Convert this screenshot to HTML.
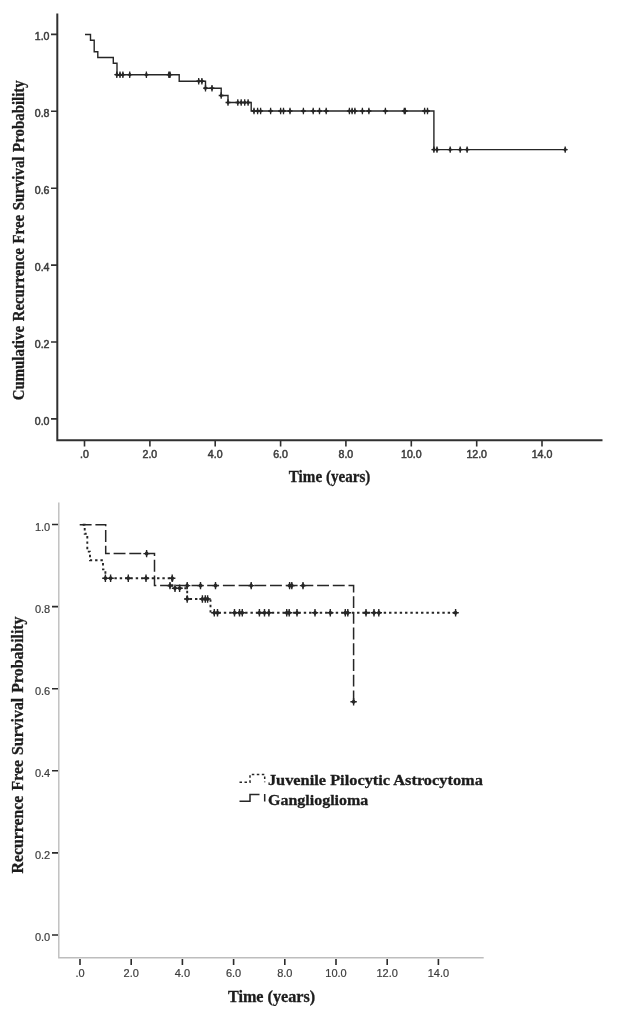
<!DOCTYPE html>
<html><head><meta charset="utf-8"><title>Recurrence free survival</title>
<style>
html,body{margin:0;padding:0;background:#fff}
svg{display:block}
.tk{font-family:"Liberation Sans",sans-serif;fill:#3c3c3c;stroke:#3c3c3c}
#all{filter:blur(.55px)}
.ti{font-family:"Liberation Serif",serif;font-weight:bold;fill:#1c1c1c;stroke:#1c1c1c;stroke-width:.3}
</style></head><body>
<svg width="618" height="1016" viewBox="0 0 618 1016">
<rect width="618" height="1016" fill="#fff"/>
<g id="all">
<g stroke="#303030" stroke-width="2" fill="none"><path d="M57.3 13.5V440.3H602.5"/>
<path stroke-width="1.6" d="M51 34.4H57M51 111.3H57M51 188.2H57M51 265.1H57M51 342.0H57M51 418.9H57M84.5 440V446.5M149.9 440V446.5M215.2 440V446.5M280.6 440V446.5M345.9 440V446.5M411.3 440V446.5M476.7 440V446.5M542.0 440V446.5"/></g>
<g class="tk" font-size="10.6" stroke-width=".5">
<text x="49.5" y="40.1" text-anchor="end">1.0</text>
<text x="49.5" y="117.0" text-anchor="end">0.8</text>
<text x="49.5" y="193.9" text-anchor="end">0.6</text>
<text x="49.5" y="270.8" text-anchor="end">0.4</text>
<text x="49.5" y="347.7" text-anchor="end">0.2</text>
<text x="49.5" y="424.6" text-anchor="end">0.0</text>
<text x="84.5" y="458.4" text-anchor="middle">.0</text>
<text x="149.9" y="458.4" text-anchor="middle">2.0</text>
<text x="215.2" y="458.4" text-anchor="middle">4.0</text>
<text x="280.6" y="458.4" text-anchor="middle">6.0</text>
<text x="345.9" y="458.4" text-anchor="middle">8.0</text>
<text x="411.3" y="458.4" text-anchor="middle">10.0</text>
<text x="476.7" y="458.4" text-anchor="middle">12.0</text>
<text x="542.0" y="458.4" text-anchor="middle">14.0</text>
</g>
<text class="ti" font-size="16" word-spacing="1" transform="translate(23.5 400.3) rotate(-90)" textLength="320" lengthAdjust="spacingAndGlyphs">Cumulative Recurrence Free Survival Probability</text>
<text class="ti" font-size="16" x="288.8" y="481.7" textLength="81.6" lengthAdjust="spacingAndGlyphs">Time (years)</text>
<path d="M85 34.5H90.5V40.3H94.2V51.7H97.8V57.5H113.3V63.3H117V74.7H179.2V81.2H205.5V88.2H221.2V95.5H228V102.5H251.2V111H433.9V149.6H565.2" fill="none" stroke="#262626" stroke-width="1.4"/>
<path d="M114.3 74.7h5M116.8 71.5v6.4M117.5 74.7h5M120.0 71.5v6.4M120.4 74.7h5M122.9 71.5v6.4M127.2 74.7h5M129.7 71.5v6.4M143.9 74.7h5M146.4 71.5v6.4M166.4 74.7h5M168.9 71.5v6.4M167.5 74.7h5M170.0 71.5v6.4M196.2 81.2h5M198.7 78.0v6.4M199.4 81.2h5M201.9 78.0v6.4M203.0 88.2h5M205.5 85.0v6.4M209.5 88.2h5M212.0 85.0v6.4M218.7 95.5h5M221.2 92.3v6.4M225.5 102.5h5M228.0 99.3v6.4M235.3 102.5h5M237.8 99.3v6.4M238.7 102.5h5M241.2 99.3v6.4M242.2 102.5h5M244.7 99.3v6.4M245.6 102.5h5M248.1 99.3v6.4M251.5 111.0h5M254.0 107.8v6.4M255.1 111.0h5M257.6 107.8v6.4M258.1 111.0h5M260.6 107.8v6.4M268.1 111.0h5M270.6 107.8v6.4M278.1 111.0h5M280.6 107.8v6.4M281.0 111.0h5M283.5 107.8v6.4M287.5 111.0h5M290.0 107.8v6.4M300.9 111.0h5M303.4 107.8v6.4M310.7 111.0h5M313.2 107.8v6.4M317.0 111.0h5M319.5 107.8v6.4M323.7 111.0h5M326.2 107.8v6.4M346.9 111.0h5M349.4 107.8v6.4M349.6 111.0h5M352.1 107.8v6.4M352.4 111.0h5M354.9 107.8v6.4M359.9 111.0h5M362.4 107.8v6.4M366.4 111.0h5M368.9 107.8v6.4M382.9 111.0h5M385.4 107.8v6.4M401.8 111.0h5M404.3 107.8v6.4M402.7 111.0h5M405.2 107.8v6.4M422.1 111.0h5M424.6 107.8v6.4M425.0 111.0h5M427.5 107.8v6.4M431.4 149.6h5M433.9 146.4v6.4M434.5 149.6h5M437.0 146.4v6.4M447.7 149.6h5M450.2 146.4v6.4M457.7 149.6h5M460.2 146.4v6.4M464.6 149.6h5M467.1 146.4v6.4M562.7 149.6h5M565.2 146.4v6.4" fill="none" stroke="#262626" stroke-width="1.3"/>
<path d="M115.0 74.7L116.8 72.1L118.6 74.7L116.8 77.3ZM118.2 74.7L120.0 72.1L121.8 74.7L120.0 77.3ZM121.1 74.7L122.9 72.1L124.7 74.7L122.9 77.3ZM127.9 74.7L129.7 72.1L131.5 74.7L129.7 77.3ZM144.6 74.7L146.4 72.1L148.2 74.7L146.4 77.3ZM167.1 74.7L168.9 72.1L170.7 74.7L168.9 77.3ZM168.2 74.7L170.0 72.1L171.8 74.7L170.0 77.3ZM196.9 81.2L198.7 78.6L200.5 81.2L198.7 83.8ZM200.1 81.2L201.9 78.6L203.7 81.2L201.9 83.8ZM203.7 88.2L205.5 85.6L207.3 88.2L205.5 90.8ZM210.2 88.2L212.0 85.6L213.8 88.2L212.0 90.8ZM219.4 95.5L221.2 92.9L223.0 95.5L221.2 98.1ZM226.2 102.5L228.0 99.9L229.8 102.5L228.0 105.1ZM236.0 102.5L237.8 99.9L239.6 102.5L237.8 105.1ZM239.4 102.5L241.2 99.9L243.0 102.5L241.2 105.1ZM242.9 102.5L244.7 99.9L246.5 102.5L244.7 105.1ZM246.3 102.5L248.1 99.9L249.9 102.5L248.1 105.1ZM252.2 111.0L254.0 108.4L255.8 111.0L254.0 113.6ZM255.8 111.0L257.6 108.4L259.4 111.0L257.6 113.6ZM258.8 111.0L260.6 108.4L262.4 111.0L260.6 113.6ZM268.8 111.0L270.6 108.4L272.4 111.0L270.6 113.6ZM278.8 111.0L280.6 108.4L282.4 111.0L280.6 113.6ZM281.7 111.0L283.5 108.4L285.3 111.0L283.5 113.6ZM288.2 111.0L290.0 108.4L291.8 111.0L290.0 113.6ZM301.6 111.0L303.4 108.4L305.2 111.0L303.4 113.6ZM311.4 111.0L313.2 108.4L315.0 111.0L313.2 113.6ZM317.7 111.0L319.5 108.4L321.3 111.0L319.5 113.6ZM324.4 111.0L326.2 108.4L328.0 111.0L326.2 113.6ZM347.6 111.0L349.4 108.4L351.2 111.0L349.4 113.6ZM350.3 111.0L352.1 108.4L353.9 111.0L352.1 113.6ZM353.1 111.0L354.9 108.4L356.7 111.0L354.9 113.6ZM360.6 111.0L362.4 108.4L364.2 111.0L362.4 113.6ZM367.1 111.0L368.9 108.4L370.7 111.0L368.9 113.6ZM383.6 111.0L385.4 108.4L387.2 111.0L385.4 113.6ZM402.5 111.0L404.3 108.4L406.1 111.0L404.3 113.6ZM403.4 111.0L405.2 108.4L407.0 111.0L405.2 113.6ZM422.8 111.0L424.6 108.4L426.4 111.0L424.6 113.6ZM425.7 111.0L427.5 108.4L429.3 111.0L427.5 113.6ZM432.1 149.6L433.9 147.0L435.7 149.6L433.9 152.2ZM435.2 149.6L437.0 147.0L438.8 149.6L437.0 152.2ZM448.4 149.6L450.2 147.0L452.0 149.6L450.2 152.2ZM458.4 149.6L460.2 147.0L462.0 149.6L460.2 152.2ZM465.3 149.6L467.1 147.0L468.9 149.6L467.1 152.2ZM563.4 149.6L565.2 147.0L567.0 149.6L565.2 152.2Z" fill="#262626"/>
<path d="M58.8 502.5V957.7H483.7" fill="none" stroke="#bdbdbd" stroke-width="1.4"/>
<path fill="none" stroke="#2a2a2a" stroke-width="1.6" d="M52 524.5H58M52 606.6H58M52 688.7H58M52 770.8H58M52 852.9H58M52 935.0H58M80.0 959V965M131.2 959V965M182.4 959V965M233.6 959V965M284.8 959V965M336.0 959V965M387.2 959V965M438.4 959V965"/>
<g class="tk" font-size="11" stroke-width=".2">
<text x="50.2" y="530.5" text-anchor="end">1.0</text>
<text x="50.2" y="612.6" text-anchor="end">0.8</text>
<text x="50.2" y="694.7" text-anchor="end">0.6</text>
<text x="50.2" y="776.8" text-anchor="end">0.4</text>
<text x="50.2" y="858.9" text-anchor="end">0.2</text>
<text x="50.2" y="941.0" text-anchor="end">0.0</text>
<text x="80.0" y="976.6" text-anchor="middle">.0</text>
<text x="131.2" y="976.6" text-anchor="middle">2.0</text>
<text x="182.4" y="976.6" text-anchor="middle">4.0</text>
<text x="233.6" y="976.6" text-anchor="middle">6.0</text>
<text x="284.8" y="976.6" text-anchor="middle">8.0</text>
<text x="336.0" y="976.6" text-anchor="middle">10.0</text>
<text x="387.2" y="976.6" text-anchor="middle">12.0</text>
<text x="438.4" y="976.6" text-anchor="middle">14.0</text>
</g>
<text class="ti" font-size="16" word-spacing="1.2" transform="translate(23.4 873.5) rotate(-90)" textLength="257" lengthAdjust="spacingAndGlyphs">Recurrence Free Survival Probability</text>
<text class="ti" font-size="16" x="227.9" y="1001.6" textLength="87.3" lengthAdjust="spacingAndGlyphs">Time (years)</text>
<path d="M79.7 524.7H105.7V553.6H154.5V585.6H353.6V701.7" fill="none" stroke="#262626" stroke-width="1.5" stroke-dasharray="11.9 3.8"/>
<path d="M80 524.7H84.7V533.8H87.3V551.6H90V560.3H103V569.4H105.4V578.3H172.4V588.3H187.2V599H210.5V612.8H455.6" fill="none" stroke="#262626" stroke-width="1.9" stroke-dasharray="2.4 2.93" stroke-dashoffset="2.6"/>
<path d="M143.4 553.6h6.4M146.6 549.9v7.4M166.8 585.6h6.4M170.0 581.9v7.4M184.0 585.6h6.4M187.2 581.9v7.4M197.3 585.6h6.4M200.5 581.9v7.4M212.3 585.6h6.4M215.5 581.9v7.4M248.0 585.6h6.4M251.2 581.9v7.4M286.4 585.6h6.4M289.6 581.9v7.4M288.6 585.6h6.4M291.8 581.9v7.4M299.8 585.6h6.4M303.0 581.9v7.4M350.4 701.7h6.4M353.6 698.0v7.4M102.2 578.3h6.4M105.4 574.6v7.4M107.4 578.3h6.4M110.6 574.6v7.4M125.1 578.3h6.4M128.3 574.6v7.4M142.8 578.3h6.4M146.0 574.6v7.4M169.0 578.3h6.4M172.2 574.6v7.4M171.8 588.3h6.4M175.0 584.6v7.4M176.4 588.3h6.4M179.6 584.6v7.4M184.0 599.0h6.4M187.2 595.3v7.4M199.2 599.0h6.4M202.4 595.3v7.4M202.1 599.0h6.4M205.3 595.3v7.4M204.4 599.0h6.4M207.6 595.3v7.4M211.1 612.8h6.4M214.3 609.1v7.4M214.3 612.8h6.4M217.5 609.1v7.4M231.3 612.8h6.4M234.5 609.1v7.4M236.3 612.8h6.4M239.5 609.1v7.4M239.1 612.8h6.4M242.3 609.1v7.4M256.2 612.8h6.4M259.4 609.1v7.4M261.3 612.8h6.4M264.5 609.1v7.4M265.7 612.8h6.4M268.9 609.1v7.4M283.5 612.8h6.4M286.7 609.1v7.4M286.0 612.8h6.4M289.2 609.1v7.4M293.8 612.8h6.4M297.0 609.1v7.4M311.8 612.8h6.4M315.0 609.1v7.4M327.1 612.8h6.4M330.3 609.1v7.4M342.1 612.8h6.4M345.3 609.1v7.4M344.6 612.8h6.4M347.8 609.1v7.4M362.8 612.8h6.4M366.0 609.1v7.4M370.8 612.8h6.4M374.0 609.1v7.4M375.6 612.8h6.4M378.8 609.1v7.4M452.4 612.8h6.4M455.6 609.1v7.4" fill="none" stroke="#262626" stroke-width="1.4"/>
<path d="M144.3 553.6L146.6 550.8L148.9 553.6L146.6 556.4ZM167.7 585.6L170.0 582.8L172.3 585.6L170.0 588.4ZM184.9 585.6L187.2 582.8L189.5 585.6L187.2 588.4ZM198.2 585.6L200.5 582.8L202.8 585.6L200.5 588.4ZM213.2 585.6L215.5 582.8L217.8 585.6L215.5 588.4ZM248.9 585.6L251.2 582.8L253.5 585.6L251.2 588.4ZM287.3 585.6L289.6 582.8L291.9 585.6L289.6 588.4ZM289.5 585.6L291.8 582.8L294.1 585.6L291.8 588.4ZM300.7 585.6L303.0 582.8L305.3 585.6L303.0 588.4ZM351.3 701.7L353.6 698.9L355.9 701.7L353.6 704.5ZM103.1 578.3L105.4 575.5L107.7 578.3L105.4 581.1ZM108.3 578.3L110.6 575.5L112.9 578.3L110.6 581.1ZM126.0 578.3L128.3 575.5L130.6 578.3L128.3 581.1ZM143.7 578.3L146.0 575.5L148.3 578.3L146.0 581.1ZM169.9 578.3L172.2 575.5L174.5 578.3L172.2 581.1ZM172.7 588.3L175.0 585.5L177.3 588.3L175.0 591.1ZM177.3 588.3L179.6 585.5L181.9 588.3L179.6 591.1ZM184.9 599.0L187.2 596.2L189.5 599.0L187.2 601.8ZM200.1 599.0L202.4 596.2L204.7 599.0L202.4 601.8ZM203.0 599.0L205.3 596.2L207.6 599.0L205.3 601.8ZM205.3 599.0L207.6 596.2L209.9 599.0L207.6 601.8ZM212.0 612.8L214.3 610.0L216.6 612.8L214.3 615.6ZM215.2 612.8L217.5 610.0L219.8 612.8L217.5 615.6ZM232.2 612.8L234.5 610.0L236.8 612.8L234.5 615.6ZM237.2 612.8L239.5 610.0L241.8 612.8L239.5 615.6ZM240.0 612.8L242.3 610.0L244.6 612.8L242.3 615.6ZM257.1 612.8L259.4 610.0L261.7 612.8L259.4 615.6ZM262.2 612.8L264.5 610.0L266.8 612.8L264.5 615.6ZM266.6 612.8L268.9 610.0L271.2 612.8L268.9 615.6ZM284.4 612.8L286.7 610.0L289.0 612.8L286.7 615.6ZM286.9 612.8L289.2 610.0L291.5 612.8L289.2 615.6ZM294.7 612.8L297.0 610.0L299.3 612.8L297.0 615.6ZM312.7 612.8L315.0 610.0L317.3 612.8L315.0 615.6ZM328.0 612.8L330.3 610.0L332.6 612.8L330.3 615.6ZM343.0 612.8L345.3 610.0L347.6 612.8L345.3 615.6ZM345.5 612.8L347.8 610.0L350.1 612.8L347.8 615.6ZM363.7 612.8L366.0 610.0L368.3 612.8L366.0 615.6ZM371.7 612.8L374.0 610.0L376.3 612.8L374.0 615.6ZM376.5 612.8L378.8 610.0L381.1 612.8L378.8 615.6ZM453.3 612.8L455.6 610.0L457.9 612.8L455.6 615.6Z" fill="#262626"/>
<path d="M239.5 782.2H250V774.5H264.7V782.2" fill="none" stroke="#262626" stroke-width="1.5" stroke-dasharray="2.5 2.5"/>
<path d="M239.5 801.2H250V794.5H259.5M264.7 794V801.5" fill="none" stroke="#262626" stroke-width="1.5"/>
<text class="ti" font-size="15" x="267.9" y="785.3" textLength="215" lengthAdjust="spacingAndGlyphs">Juvenile Pilocytic Astrocytoma</text>
<text class="ti" font-size="15.5" x="268" y="804.7" textLength="100.3" lengthAdjust="spacingAndGlyphs">Ganglioglioma</text>
</g>
</svg>
</body></html>
